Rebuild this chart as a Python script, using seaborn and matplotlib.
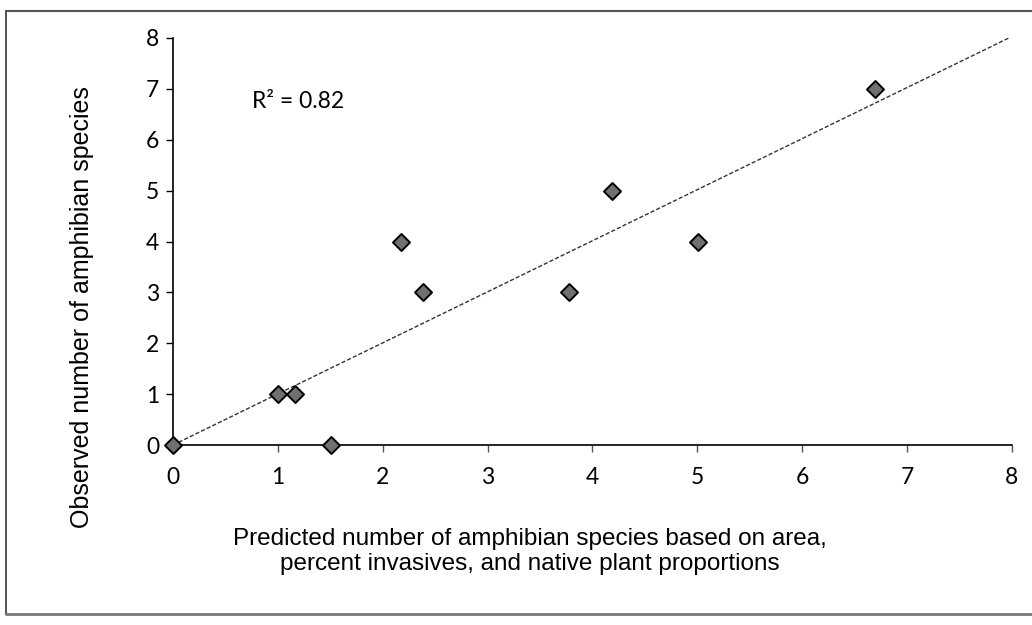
import numpy as np
import pandas as pd
import matplotlib
matplotlib.use("Agg")
import matplotlib.pyplot as plt
from matplotlib.lines import Line2D
import seaborn as sns

# Data
predicted = [0.0, 1.00, 1.16, 1.51, 2.17, 2.38, 3.78, 4.19, 5.01, 6.69]
observed = [0, 1, 1, 0, 4, 3, 3, 5, 4, 7]
ticks = [0, 1, 2, 3, 4, 5, 6, 7, 8]
r2_label = "R² = 0.82"
xlabel = "Predicted number of amphibian species based on area,\npercent invasives, and native plant proportions"
ylabel = "Observed number of amphibian species"

sns.set_theme(style="white")
plt.rcParams['font.family'] = ['Lato', 'DejaVu Sans']

df = pd.DataFrame({"pred": predicted, "obs": observed})

fig = plt.figure(figsize=(10.32, 6.25), dpi=100)
ax = fig.add_axes([0.1676, 0.288, 0.813, 0.6512])

# Trend line through origin (least squares)
x = np.array(predicted)
y = np.array(observed)
slope = (x * y).sum() / (x * x).sum()
line_x = np.array([ticks[0], ticks[-1]])
sns.lineplot(x=line_x, y=slope * line_x, ax=ax, color="#333333", lw=1.0,
             linestyle=(0, (3, 1.5)), zorder=2)

sns.scatterplot(data=df, x="pred", y="obs", ax=ax, marker="D", s=75,
                color="#707070", edgecolor="black", linewidth=1.4, zorder=3,
                clip_on=False)

ax.set_xlim(ticks[0], ticks[-1])
ax.set_ylim(ticks[0], ticks[-1])
ax.set_xticks(ticks)
ax.set_yticks(ticks)
ax.tick_params(axis="both", which="major", labelsize=16.5, length=5, width=1,
               color="black", direction="out", left=True, bottom=True,
               labelcolor="black")
ax.tick_params(axis="y", pad=5)
ax.tick_params(axis="x", pad=11, color="#555555")
for s in ["top", "right"]:
    ax.spines[s].set_visible(False)
for s in ["left", "bottom"]:
    ax.spines[s].set_color("black")
    ax.spines[s].set_linewidth(1.2)

ax.set_xlabel(xlabel, fontsize=17.5, family=["Liberation Sans"],
              linespacing=1.2, color="black")
ax.xaxis.set_label_coords(0.4255, -0.204)
ax.xaxis.label.set_va("top")
ax.set_ylabel(ylabel, fontsize=18, family=["Liberation Sans"], color="black")
ax.yaxis.set_label_coords(-0.1085, 0.338)
ax.yaxis.label.set_va("center")

ax.text(0.75, 6.75, r2_label, fontsize=16.5, color="black", va="center", ha="left")

# Figure frame (scanned border)
fig.add_artist(Line2D([0.006, 0.006], [0.0176, 0.983], transform=fig.transFigure,
                      color="#444444", lw=1.3))
fig.add_artist(Line2D([0.006, 1.0], [0.983, 0.983], transform=fig.transFigure,
                      color="#555555", lw=1.5))
fig.add_artist(Line2D([0.006, 1.0], [0.0176, 0.0176], transform=fig.transFigure,
                      color="#777777", lw=2.0))

fig.savefig("out.png", dpi=100, facecolor="white")
